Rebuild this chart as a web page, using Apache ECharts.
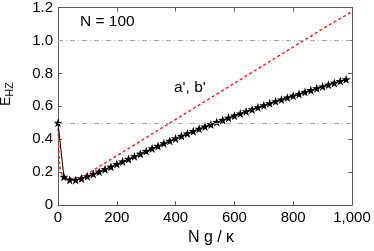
<!DOCTYPE html>
<html>
<head>
<meta charset="utf-8">
<script src="https://cdn.jsdelivr.net/npm/echarts@6/dist/echarts.min.js"></script>
<style>
html,body{margin:0;padding:0;background:#fff;}
#c{width:374px;height:251px;}
</style>
</head>
<body>
<div id="c"></div>
<script>
// Black star series: N g / kappa vs E_HZ
const starX = [0,20,40,60,80,100,120,140,160,180,200,220,240,260,280,300,320,340,360,380,400,420,440,460,480,500,520,540,560,580,600,620,640,660,680,700,720,740,760,780,800,820,840,860,880,900,920,940,960,980];
const starY = [0.500,0.172,0.153,0.153,0.162,0.175,0.189,0.203,0.218,0.233,0.249,0.265,0.280,0.296,0.312,0.328,0.344,0.359,0.375,0.390,0.405,0.420,0.435,0.449,0.463,0.477,0.490,0.504,0.517,0.530,0.543,0.556,0.569,0.581,0.594,0.606,0.618,0.630,0.641,0.653,0.664,0.675,0.687,0.698,0.709,0.720,0.731,0.742,0.753,0.764];
// Red dashed curve
const redX = [0,2,4,6,10,20,30,40,60,80,100,200,300,400,500,600,700,800,900,1000];
const redY = [0.500,0.380,0.280,0.230,0.200,0.175,0.165,0.162,0.165,0.175,0.190,0.300,0.410,0.520,0.630,0.740,0.850,0.960,1.070,1.175];
// Reference lines
const refLines = [0.5, 1.0];
const xTicks = {min:0, max:1000, interval:200};
const yTicks = {min:0, max:1.2, interval:0.2};
const annN = 'N = 100';
const annAB = "a', b'";

const font = 'Liberation Sans, Arial, Helvetica, sans-serif';
const axisCol = '#5a5a5a';
const star = 'path://M0,-10 L2.35,-3.24 L9.51,-3.09 L3.8,1.24 L5.88,8.09 L0,4 L-5.88,8.09 L-3.8,1.24 L-9.51,-3.09 L-2.35,-3.24 Z';

const chart = echarts.init(document.getElementById('c'), null, {renderer:'canvas'});
const baseAxis = {
  axisLine:{show:true, onZero:false, lineStyle:{color:axisCol, width:1}},
  axisTick:{show:true, inside:true, length:4, lineStyle:{color:axisCol}},
  splitLine:{show:false}
};
chart.setOption({
  animation:false,
  grid:{left:58, right:22, top:6, bottom:42, containLabel:false},
  xAxis:[
    Object.assign({}, baseAxis, {type:'value', position:'bottom', min:xTicks.min, max:xTicks.max, interval:xTicks.interval,
      axisLabel:{color:'#000', fontSize:15, fontFamily:font, margin:5},
      name:'N g / κ', nameLocation:'middle', nameGap:21,
      nameTextStyle:{color:'#000', fontSize:16, fontFamily:font, padding:[0,0,0,12]}}),
    Object.assign({}, baseAxis, {type:'value', position:'top', min:xTicks.min, max:xTicks.max, interval:xTicks.interval, axisLabel:{show:false}})
  ],
  yAxis:[
    Object.assign({}, baseAxis, {type:'value', position:'left', min:yTicks.min, max:yTicks.max, interval:yTicks.interval,
      axisLabel:{color:'#000', fontSize:15, fontFamily:font, margin:5, formatter:v => v === 0 ? '0' : v.toFixed(1)}}),
    Object.assign({}, baseAxis, {type:'value', position:'right', min:yTicks.min, max:yTicks.max, interval:yTicks.interval, axisLabel:{show:false}})
  ],
  graphic:[
    {type:'text', x:7, y:94, rotation:Math.PI/2, style:{
      text:'{a|E}{b|HZ}', fill:'#000', align:'center', verticalAlign:'middle',
      rich:{a:{fontSize:14, fontFamily:font, verticalAlign:'top', lineHeight:15},
            b:{fontSize:11, fontFamily:font, padding:[5,0,0,0], lineHeight:12}}
    }},
    {type:'text', x:80, y:22, style:{text:annN, fill:'#000', fontSize:15.5, fontFamily:font, verticalAlign:'middle'}},
    {type:'text', x:174, y:88, style:{text:annAB, fill:'#000', fontSize:15.5, fontFamily:font, verticalAlign:'middle'}}
  ],
  series:[
    {type:'line', data:refLines.map(()=>null), silent:true, symbol:'none',
      markLine:{silent:true, symbol:'none', label:{show:false},
        lineStyle:{color:'#aaaaaa', width:1, type:[5,3,1,3]},
        data:refLines.map(v=>({yAxis:v}))}},
    {type:'line', data:redX.map((x,i)=>[x, redY[i]]), symbol:'none', smooth:false,
      lineStyle:{color:'#ff2020', width:1.5, type:[3,2.5]}, z:3},
    {type:'line', data:starX.map((x,i)=>[x, starY[i]]), symbol:star, symbolSize:9,
      itemStyle:{color:'#000'}, lineStyle:{color:'#000', width:1}, z:4}
  ]
});
</script>
</body>
</html>
